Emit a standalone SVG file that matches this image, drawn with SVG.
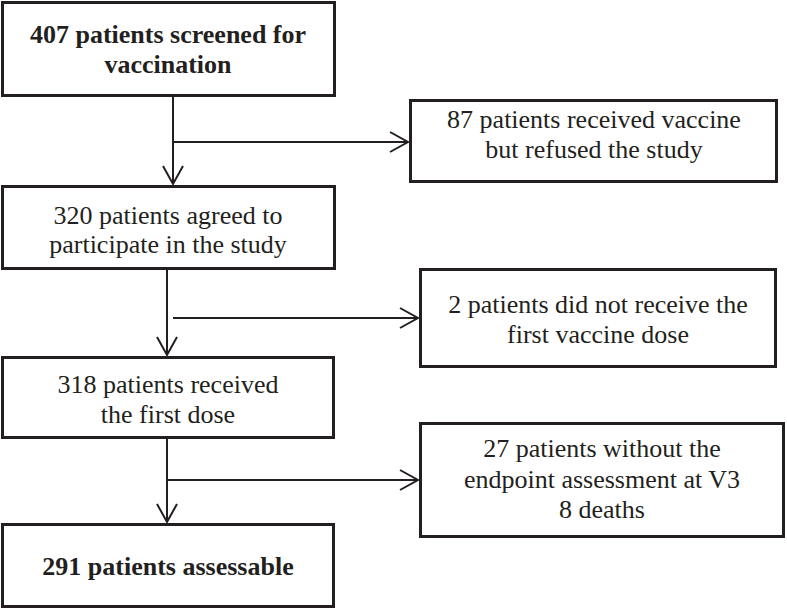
<svg xmlns="http://www.w3.org/2000/svg" width="787" height="609" viewBox="0 0 787 609">
<style>
.box{fill:#fff;stroke:#231f20;stroke-width:3}
.t{font-family:"Liberation Serif","Times New Roman",serif;font-size:26px;fill:#231f20;text-anchor:middle}
.b{font-weight:bold}
.c{fill:none;stroke:#231f20;stroke-width:2}
</style>
<defs>
<marker id="ah" markerUnits="userSpaceOnUse" markerWidth="24" markerHeight="24" viewBox="-21 -12 24 24" refX="0" refY="0" orient="auto">
<path d="M-18,-10 L0,0 L-18,10" fill="none" stroke="#231f20" stroke-width="2"/>
</marker>
</defs>
<g id="connectors">
<path class="c" d="M173,96 V184" marker-end="url(#ah)"/>
<path class="c" d="M173,142 H408" marker-end="url(#ah)"/>
<path class="c" d="M167,269 V355" marker-end="url(#ah)"/>
<path class="c" d="M173,318 H418" marker-end="url(#ah)"/>
<path class="c" d="M167,438 V522" marker-end="url(#ah)"/>
<path class="c" d="M167,480 H418" marker-end="url(#ah)"/>
</g>
<g id="n1"><rect class="box" x="2.5" y="2.5" width="332" height="93"/>
<text class="t b" x="168" y="43">407 patients screened for</text>
<text class="t b" x="168" y="73">vaccination</text></g>
<g id="n2"><rect class="box" x="410.5" y="100.5" width="366" height="81"/>
<text class="t" x="594" y="128">87 patients received vaccine</text>
<text class="t" x="594" y="158">but refused the study</text></g>
<g id="n3"><rect class="box" x="2.5" y="186.5" width="332" height="82"/>
<text class="t" x="168" y="224">320 patients agreed to</text>
<text class="t" x="168" y="253">participate in the study</text></g>
<g id="n4"><rect class="box" x="420.5" y="269.5" width="355" height="97"/>
<text class="t" x="598" y="313">2 patients did not receive the</text>
<text class="t" x="598" y="343">first vaccine dose</text></g>
<g id="n5"><rect class="box" x="2.5" y="357.5" width="331" height="80"/>
<text class="t" x="168" y="393">318 patients received</text>
<text class="t" x="168" y="423">the first dose</text></g>
<g id="n6"><rect class="box" x="420.5" y="423.5" width="363" height="113"/>
<text class="t" x="602" y="457">27 patients without the</text>
<text class="t" x="602" y="488">endpoint assessment at V3</text>
<text class="t" x="602" y="518">8 deaths</text></g>
<g id="n7"><rect class="box" x="2.5" y="524.5" width="331" height="82"/>
<text class="t b" x="168" y="575">291 patients assessable</text></g>
</svg>
